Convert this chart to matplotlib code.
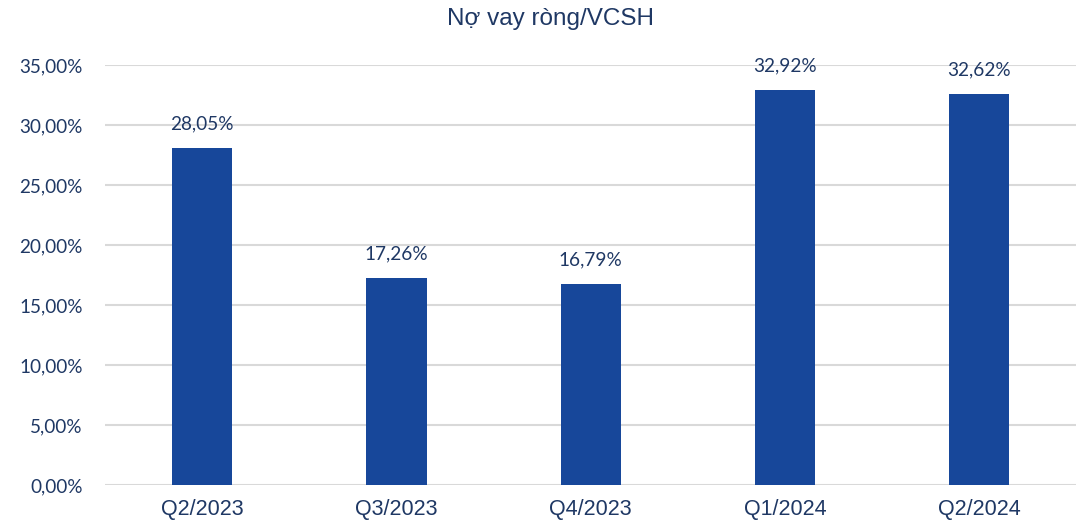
import numpy as np
import matplotlib.pyplot as plt

categories = ['Q2/2023', 'Q3/2023', 'Q4/2023', 'Q1/2024', 'Q2/2024']
values = [28.05, 17.26, 16.79, 32.92, 32.62]
yticks = [0, 5, 10, 15, 20, 25, 30, 35]

navy = '#1F3864'
bar_color = '#17479A'

fig = plt.figure(figsize=(10.77, 5.23), dpi=100)
ax = fig.add_axes([0.0975, 0.0727, 0.902, 0.803])

x = np.arange(len(categories))
ax.bar(x, values, width=0.31, color=bar_color, zorder=3)
for xi, v in zip(x, values):
	ax.text(xi, v + 1.3, ('%.2f' % v).replace('.', ',') + '%', ha='center', va='bottom',
		fontsize=13.7, color=navy, family=['Lato', 'DejaVu Sans'])

ax.set_xlim(-0.5, len(categories) - 0.5)
ax.set_ylim(0, 35)
ax.set_yticks(yticks)
ax.set_yticklabels([('%.2f' % t).replace('.', ',') + '%' for t in yticks],
	fontsize=13.6, color=navy, family=['Lato', 'DejaVu Sans'])
ax.set_xticks(x)
ax.set_xticklabels(categories, fontsize=15.5, color=navy, family=['Liberation Sans', 'DejaVu Sans'])
ax.tick_params(axis='both', length=0)
ax.tick_params(axis='y', pad=16)
ax.tick_params(axis='x', pad=10)
ax.grid(axis='y', color='#D9D9D9', linewidth=1.5, zorder=0)
for s in ax.spines.values():
	s.set_visible(False)

fig.text(0.511, 0.963, 'Nợ vay ròng/VCSH', ha='center', va='center', fontsize=17.5,
	color=navy, family=['Liberation Sans', 'DejaVu Sans'])

plt.savefig('out.png', dpi=100)
plt.close()
